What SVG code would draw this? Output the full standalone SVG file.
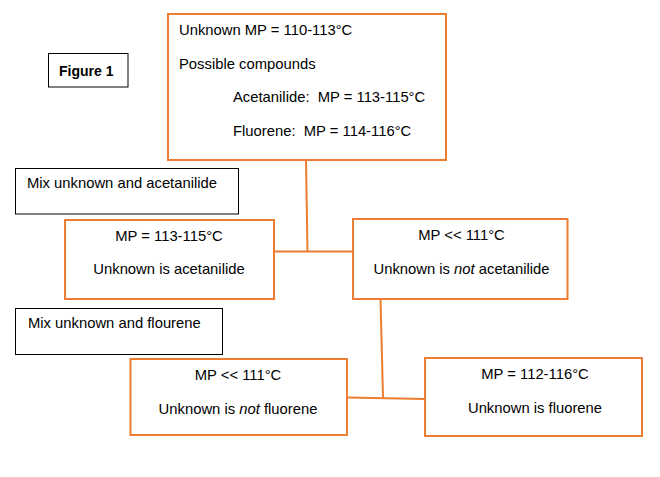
<svg xmlns="http://www.w3.org/2000/svg" width="660" height="477" viewBox="0 0 660 477">
<style>
text{font-family:"Liberation Sans",Arial,sans-serif;font-size:14.8px;fill:#000;white-space:pre}
.c{text-anchor:middle}
.o{fill:#fff;stroke:#ED7D31;stroke-width:2}
.k{fill:#fff;stroke:#000;stroke-width:1}
.ln{fill:none;stroke:#ED7D31;stroke-width:2}
.b{font-weight:bold;font-size:14px}
</style>
<rect width="660" height="477" fill="#fff"/>
<g id="connectors">
<path class="ln" d="M306 160 L307.5 251.5"/>
<path class="ln" d="M274 251.5 L353 251.5"/>
<path class="ln" d="M380.5 299 L383 397.5"/>
<path class="ln" d="M347 397.5 L425 399"/>
</g>
<g id="fig1">
<rect class="k" x="48.5" y="53.5" width="79.5" height="33.5"/>
<text class="b" x="59" y="75.5">Figure 1</text>
</g>
<g id="top">
<rect class="o" x="168" y="14" width="278" height="146"/>
<text x="179" y="35">Unknown MP = 110-113°C</text>
<text x="179" y="69">Possible compounds</text>
<text x="233" y="102">Acetanilide:  MP = 113-115°C</text>
<text x="233" y="136">Fluorene:  MP = 114-116°C</text>
</g>
<g id="mix1">
<rect class="k" x="15.5" y="168.5" width="223" height="45.5"/>
<text x="27" y="188">Mix unknown and acetanilide</text>
</g>
<g id="acet-yes">
<rect class="o" x="65" y="220" width="209" height="79"/>
<text class="c" x="169" y="241">MP = 113-115°C</text>
<text class="c" x="169" y="274">Unknown is acetanilide</text>
</g>
<g id="acet-no">
<rect class="o" x="353" y="219" width="214.5" height="80"/>
<text class="c" x="461.5" y="239.5">MP &lt;&lt; 111°C</text>
<text class="c" x="461.5" y="273.5">Unknown is <tspan font-style="italic">not</tspan> acetanilide</text>
</g>
<g id="mix2">
<rect class="k" x="15.5" y="308.5" width="207" height="46"/>
<text x="28" y="327.5">Mix unknown and flourene</text>
</g>
<g id="fl-no">
<rect class="o" x="130.5" y="359" width="216.5" height="76"/>
<text class="c" x="238" y="379.5">MP &lt;&lt; 111°C</text>
<text class="c" x="238" y="413.5">Unknown is <tspan font-style="italic">not</tspan> fluorene</text>
</g>
<g id="fl-yes">
<rect class="o" x="425" y="358" width="217" height="78"/>
<text class="c" x="535" y="379">MP = 112-116°C</text>
<text class="c" x="535" y="412.5">Unknown is fluorene</text>
</g>
</svg>
